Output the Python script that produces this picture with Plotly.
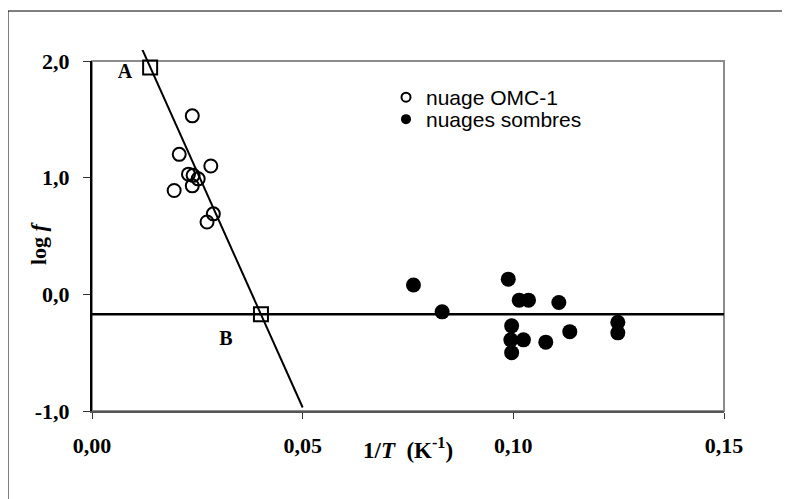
import plotly.graph_objects as go

# ---------------- data ----------------
omc_x = [0.0238, 0.0207, 0.0282, 0.0229, 0.0240, 0.0252, 0.0195, 0.0238, 0.0288, 0.0273]
omc_y = [1.53, 1.20, 1.10, 1.03, 1.02, 0.99, 0.89, 0.93, 0.69, 0.62]

dark_x = [0.0763, 0.0831, 0.0988, 0.1014, 0.1036, 0.1108, 0.0996, 0.0994,
          0.1024, 0.0996, 0.1077, 0.1134, 0.1248, 0.1248]
dark_y = [0.08, -0.15, 0.13, -0.05, -0.05, -0.07, -0.27, -0.39,
          -0.39, -0.50, -0.41, -0.32, -0.24, -0.33]

steep_x = [0.0118, 0.0500]
steep_y = [2.11, -0.97]

flat_x = [0.0, 0.15]
flat_y = [-0.17, -0.17]

square_x = [0.0138, 0.0401]
square_y = [1.945, -0.17]

label_text = ["A", "B"]
label_x = [0.0078, 0.0318]
label_y = [1.90, -0.39]

x_tickvals = [0.0, 0.05, 0.10, 0.15]
x_ticktext = ["0,00", "0,05", "0,10", "0,15"]
y_tickvals = [-1.0, 0.0, 1.0, 2.0]
y_ticktext = ["-1,0", "0,0", "1,0", "2,0"]

legend_names = ["nuage OMC-1", "nuages sombres"]

# ---------------- layout geometry ----------------
OFF = 8                      # page body margin
W, H = 790 - OFF, 499 - OFF
ML, MT = 92 - OFF, 50 - OFF
PW = 632
PH = 411 - 50
MR, MB = W - ML - PW, H - MT - PH
YDOM_TOP = 350 / PH          # y-axis domain top (plot area top at page pixel 61)


def px(xp):                  # page x pixel -> paper
    return (xp - OFF - ML) / PW


def py(yp):                  # page y pixel -> paper
    return (MT + PH - (yp - OFF)) / PH


SERIF = "Liberation Serif"
SANS = "Liberation Sans"

fig = go.Figure()

# steep line, drawn on a taller invisible y axis with the same scale so it may overshoot the top
fig.add_trace(go.Scatter(x=steep_x, y=steep_y, mode="lines", yaxis="y2",
                         line=dict(color="black", width=2), showlegend=False,
                         hoverinfo="skip"))
fig.add_trace(go.Scatter(x=flat_x, y=flat_y, mode="lines",
                         line=dict(color="black", width=2.5), showlegend=False,
                         hoverinfo="skip"))
fig.add_trace(go.Scatter(x=omc_x, y=omc_y, mode="markers", showlegend=False,
                         marker=dict(symbol="circle-open", size=13, color="black",
                                     line=dict(width=2)), cliponaxis=False))
fig.add_trace(go.Scatter(x=dark_x, y=dark_y, mode="markers", showlegend=False,
                         marker=dict(symbol="circle", size=15, color="black"),
                         cliponaxis=False))
fig.add_trace(go.Scatter(x=square_x, y=square_y, mode="markers", showlegend=False,
                         marker=dict(symbol="square-open", size=14, color="black",
                                     line=dict(width=2)), cliponaxis=False))
fig.add_trace(go.Scatter(x=label_x, y=label_y, mode="text", text=label_text,
                         textfont=dict(family=SERIF, size=20, color="black", weight="bold"),
                         showlegend=False, hoverinfo="skip", cliponaxis=False))

# legend entries (one legend each, to keep the tight line spacing of the original)
fig.add_trace(go.Scatter(x=[None], y=[None], mode="markers", name=legend_names[0],
                         legend="legend",
                         marker=dict(symbol="circle-open", size=9, color="black",
                                     line=dict(width=2))))
fig.add_trace(go.Scatter(x=[None], y=[None], mode="markers", name=legend_names[1],
                         legend="legend2",
                         marker=dict(symbol="circle", size=10, color="black")))

legend_common = dict(xanchor="left", yanchor="top",
                     font=dict(family=SANS, size=21, color="black"),
                     bgcolor="rgba(0,0,0,0)", borderwidth=0, itemwidth=30)

fig.update_layout(
    width=W, height=H,
    margin=dict(l=ML, r=MR, t=MT, b=MB, pad=0),
    paper_bgcolor="white",
    plot_bgcolor="rgba(0,0,0,0)",
    showlegend=True,
    legend=dict(x=px(386), y=py(77), **legend_common),
    legend2=dict(x=px(386), y=py(99), **legend_common),
    xaxis=dict(range=[0, 0.15], tickvals=x_tickvals, ticktext=x_ticktext,
               showgrid=False, zeroline=False, showline=True, linecolor="#555555",
               linewidth=2, ticks="outside", ticklen=6, tickwidth=1, tickcolor="#333333",
               tickfont=dict(family=SERIF, size=22, color="black", weight="bold"),
               ticklabelstandoff=8, anchor="y", fixedrange=True),
    yaxis=dict(range=[-1, 2], domain=[0, YDOM_TOP], tickvals=y_tickvals,
               ticktext=y_ticktext, showgrid=False, zeroline=False, showline=True,
               linecolor="black", linewidth=2, ticks="outside", ticklen=7, tickwidth=1,
               tickcolor="#333333",
               tickfont=dict(family=SERIF, size=22, color="black", weight="bold"),
               ticklabelstandoff=9, anchor="x", fixedrange=True),
    yaxis2=dict(range=[-1, -1 + 3 / YDOM_TOP], domain=[0, 1], visible=False,
                anchor="x", showgrid=False, zeroline=False, fixedrange=True),
    shapes=[
        # outer frame
        dict(type="rect", xref="paper", yref="paper", x0=px(8), x1=px(820),
             y0=py(530), y1=py(11), line=dict(color="black", width=1), layer="below"),
        # plot area frame (grey)
        dict(type="rect", xref="paper", yref="paper", x0=0, x1=1, y0=0, y1=py(61),
             line=dict(color="#8c8c8c", width=2), layer="below"),
    ],
    annotations=[
        dict(text="1/<i>T</i>  (K<sup>-1</sup>)", xref="paper", yref="paper",
             x=0.5, y=py(449), xanchor="center", yanchor="middle", showarrow=False,
             font=dict(family=SERIF, size=23, color="black", weight="bold")),
        dict(text="log <i>f</i>", xref="paper", yref="paper", x=px(38), y=py(243),
             xanchor="center", yanchor="middle", showarrow=False, textangle=-90,
             font=dict(family=SERIF, size=22, color="black", weight="bold")),
    ],
)

fig.write_html("out.html")
